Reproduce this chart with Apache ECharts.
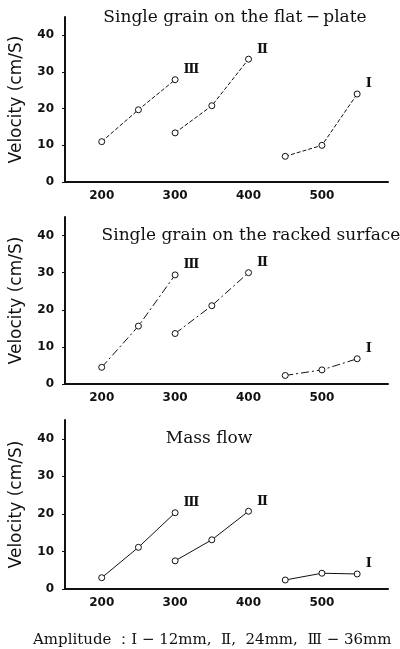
<!DOCTYPE html>
<html>
<head>
<meta charset="utf-8">
<script src="https://cdn.jsdelivr.net/npm/echarts@6/dist/echarts.min.js"></script>
<style>
  html, body { margin: 0; padding: 0; background: #fff; }
  #main { width: 400px; height: 649px; }
</style>
</head>
<body>
<div id="main"></div>
<script>
// amplitude (x) for each vibration amplitude group
const ampIII = [200, 250, 300]
const ampII = [300, 350, 400]
const ampI = [450, 500, 548]

// velocity (cm/S)
const flatIII = [11, 19.7, 27.9]
const flatII = [13.4, 20.8, 33.5]
const flatI = [7, 10, 24]

const rackedIII = [4.5, 15.6, 29.4]
const rackedII = [13.6, 21.1, 30]
const rackedI = [2.3, 3.8, 6.8]

const massIII = [3, 11.1, 20.3]
const massII = [7.5, 13.1, 20.7]
const massI = [2.4, 4.2, 4.0]

const panelTitles = ['Single grain on the flat\u2009\u2212\u2009plate', 'Single grain on the racked surface', 'Mass flow']
const groupNames = ['\u2162', '\u2161', '\u2160']
const footer = 'Amplitude \uff1a\u2160 \u2212 12mm,  \u2161,  24mm,  \u2162 \u2212 36mm'

const ink = '#111'
const serif = '"DejaVu Serif", "Liberation Serif", serif'

const chart = echarts.init(document.getElementById('main'))

const grids = [
  { left: 58, right: 12, top: 17, height: 165 },
  { left: 58, right: 12, top: 217, height: 167 },
  { left: 58, right: 12, top: 420, height: 169 }
]

const lineTypes = ['dashed', [8, 3, 2, 3], 'solid']

function makeX(i) {
  return {
    type: 'value',
    gridIndex: i,
    min: 150,
    max: 590,
    interval: 50,
    axisLine: { lineStyle: { color: ink, width: 2 } },
    axisTick: { show: false },
    splitLine: { show: false },
    axisLabel: {
      color: ink,
      fontWeight: 'bold',
      fontSize: 12,
      fontFamily: 'DejaVu Sans',
      margin: 8,
      formatter: v => (v % 100 === 0 && v >= 200 ? String(v) : '')
    }
  }
}

function makeY(i) {
  return {
    type: 'value',
    gridIndex: i,
    min: 0,
    max: 45,
    interval: 10,
    name: 'Velocity (cm/S)',
    nameLocation: 'middle',
    nameGap: 40,
    nameTextStyle: { color: ink, fontSize: 17, fontFamily: 'DejaVu Sans' },
    axisLine: { lineStyle: { color: ink, width: 2 } },
    axisTick: { show: true, length: 3, lineStyle: { color: ink } },
    splitLine: { show: false },
    axisLabel: {
      color: ink,
      fontWeight: 'bold',
      fontSize: 12,
      fontFamily: 'DejaVu Sans',
      margin: 11,
      showMaxLabel: false
    }
  }
}

function makeSeries(i, xs, ys, name) {
  const data = xs.map((x, k) => {
    const item = { value: [x, ys[k]] }
    if (k === xs.length - 1) {
      item.label = {
        show: true,
        formatter: name,
        position: 'right',
        offset: [0, -10],
        color: ink,
        fontWeight: 'bold',
        fontSize: 13,
        fontFamily: serif
      }
    }
    return item
  })
  return {
    type: 'line',
    xAxisIndex: i,
    yAxisIndex: i,
    data: data,
    symbol: 'circle',
    symbolSize: 6,
    itemStyle: { color: '#fff', borderColor: ink, borderWidth: 1 },
    lineStyle: { color: ink, width: 1, type: lineTypes[i] },
    animation: false
  }
}

const panels = [
  [flatIII, flatII, flatI],
  [rackedIII, rackedII, rackedI],
  [massIII, massII, massI]
]
const xsets = [ampIII, ampII, ampI]

const series = []
panels.forEach((p, i) => {
  p.forEach((ys, g) => series.push(makeSeries(i, xsets[g], ys, groupNames[g])))
})

const titleStyle = { color: ink, fontSize: 17, fontWeight: 'normal', fontFamily: serif }

chart.setOption({
  backgroundColor: '#fff',
  title: [
    { text: panelTitles[0], left: 230, top: 4, textAlign: 'center', textStyle: titleStyle },
    { text: panelTitles[1], left: 246, top: 222, textAlign: 'center', textStyle: titleStyle },
    { text: panelTitles[2], left: 204, top: 425, textAlign: 'center', textStyle: titleStyle },
    { text: footer, left: 28, top: 628, textStyle: { color: ink, fontSize: 15, fontWeight: 'normal', fontFamily: serif } }
  ],
  grid: grids,
  xAxis: [makeX(0), makeX(1), makeX(2)],
  yAxis: [makeY(0), makeY(1), makeY(2)],
  series: series
})
</script>
</body>
</html>
